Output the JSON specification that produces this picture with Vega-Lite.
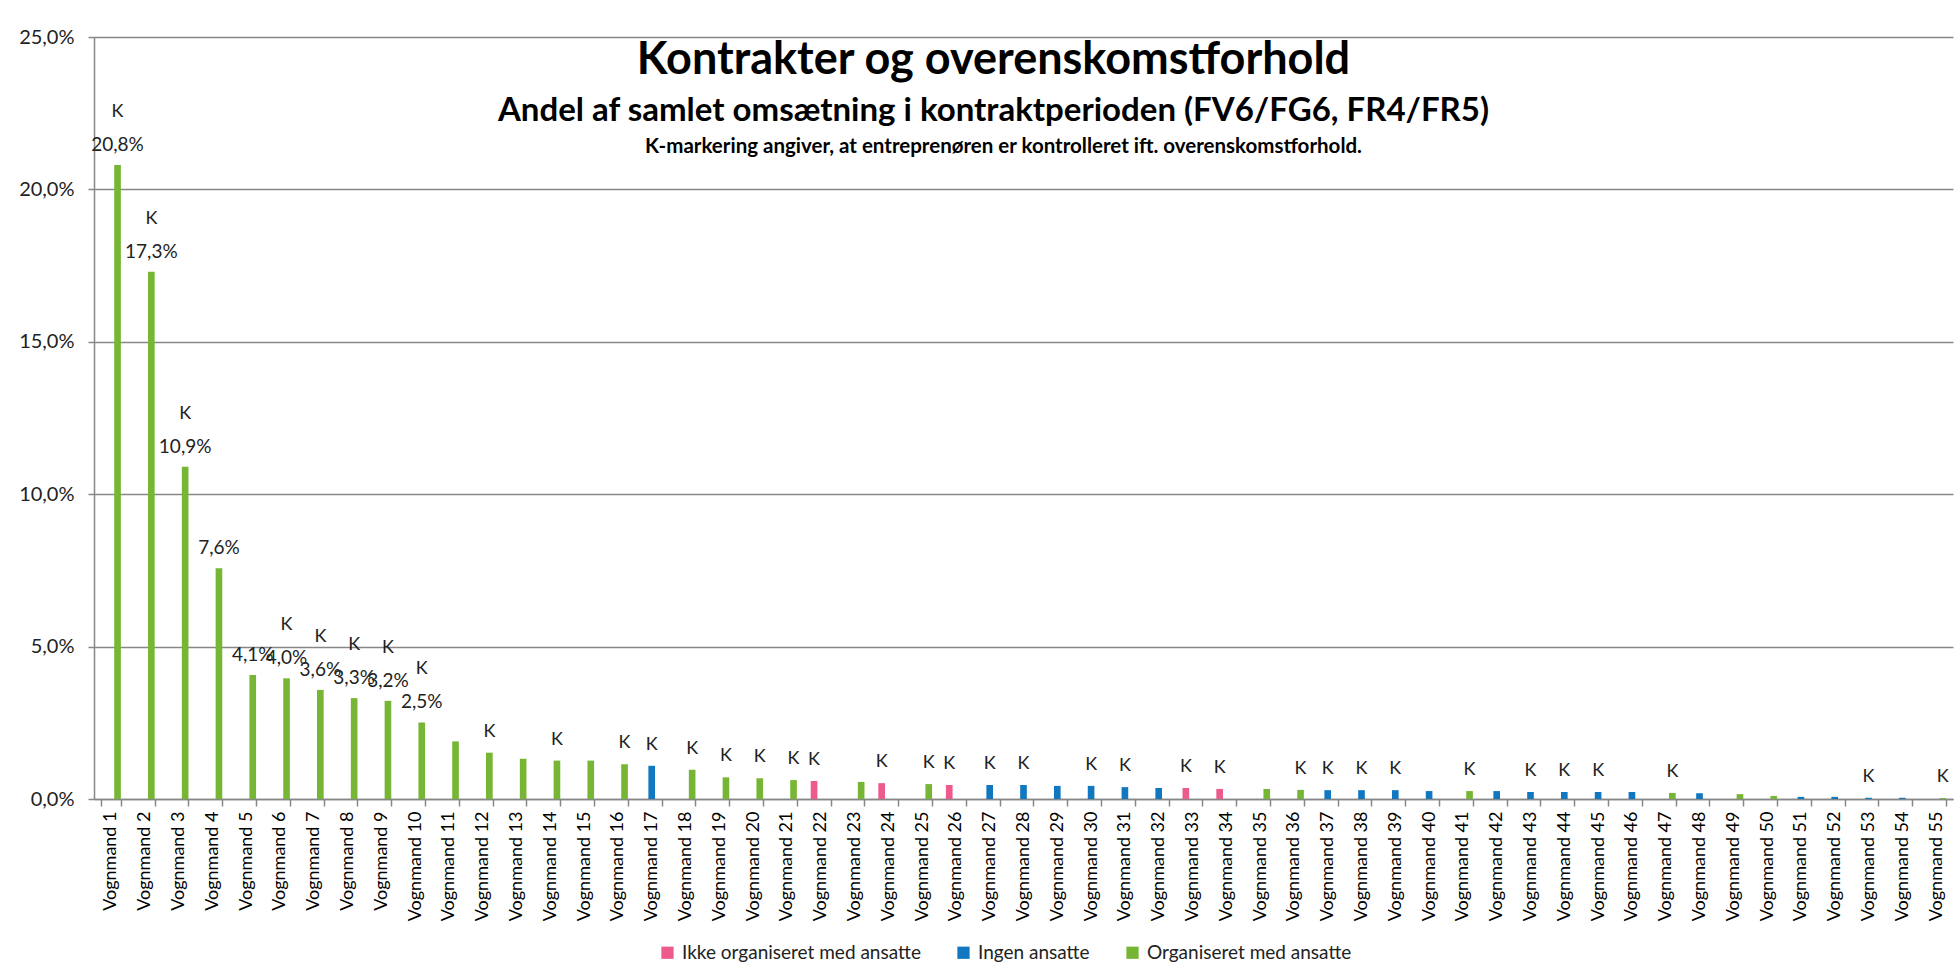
{
  "$schema": "https://vega.github.io/schema/vega-lite/v6.json",
  "autosize": "none",
  "width": 1859,
  "height": 762,
  "padding": {"left": 94, "top": 37, "right": 1, "bottom": 180},
  "background": "white",
  "title": {
    "text": "Kontrakter og overenskomstforhold",
    "subtitle": "Andel af samlet omsætning i kontraktperioden (FV6/FG6, FR4/FR5)",
    "anchor": "middle",
    "offset": -101,
    "dx": -30,
    "font": "Lato",
    "fontSize": 45,
    "fontWeight": "bold",
    "color": "black",
    "subtitleFont": "Lato",
    "subtitleFontSize": 33,
    "subtitleFontWeight": "bold",
    "subtitleColor": "black",
    "subtitlePadding": 12
  },
  "config": {
    "font": "Lato",
    "view": {"stroke": null},
    "locale": {"number": {"decimal": ",", "thousands": ".", "grouping": [3], "currency": ["", " kr"]}}
  },
  "layer": [
    {
      "data": {
        "values": [
          {"v": "Vognmand 1", "type": "Organiseret med ansatte", "share": 0.208, "k": true},
          {"v": "Vognmand 2", "type": "Organiseret med ansatte", "share": 0.173, "k": true},
          {"v": "Vognmand 3", "type": "Organiseret med ansatte", "share": 0.109, "k": true},
          {"v": "Vognmand 4", "type": "Organiseret med ansatte", "share": 0.0757, "k": false},
          {"v": "Vognmand 5", "type": "Organiseret med ansatte", "share": 0.0407, "k": false},
          {"v": "Vognmand 6", "type": "Organiseret med ansatte", "share": 0.0396, "k": true},
          {"v": "Vognmand 7", "type": "Organiseret med ansatte", "share": 0.0358, "k": true},
          {"v": "Vognmand 8", "type": "Organiseret med ansatte", "share": 0.0331, "k": true},
          {"v": "Vognmand 9", "type": "Organiseret med ansatte", "share": 0.0322, "k": true},
          {"v": "Vognmand 10", "type": "Organiseret med ansatte", "share": 0.0251, "k": true},
          {"v": "Vognmand 11", "type": "Organiseret med ansatte", "share": 0.0189, "k": false},
          {"v": "Vognmand 12", "type": "Organiseret med ansatte", "share": 0.0152, "k": true},
          {"v": "Vognmand 13", "type": "Organiseret med ansatte", "share": 0.0132, "k": false},
          {"v": "Vognmand 14", "type": "Organiseret med ansatte", "share": 0.0126, "k": true},
          {"v": "Vognmand 15", "type": "Organiseret med ansatte", "share": 0.0126, "k": false},
          {"v": "Vognmand 16", "type": "Organiseret med ansatte", "share": 0.0114, "k": true},
          {"v": "Vognmand 17", "type": "Ingen ansatte", "share": 0.0109, "k": true},
          {"v": "Vognmand 18", "type": "Organiseret med ansatte", "share": 0.0096, "k": true},
          {"v": "Vognmand 19", "type": "Organiseret med ansatte", "share": 0.0071, "k": true},
          {"v": "Vognmand 20", "type": "Organiseret med ansatte", "share": 0.0068, "k": true},
          {"v": "Vognmand 21", "type": "Organiseret med ansatte", "share": 0.0062, "k": true},
          {"v": "Vognmand 22", "type": "Ikke organiseret med ansatte", "share": 0.0059, "k": true},
          {"v": "Vognmand 23", "type": "Organiseret med ansatte", "share": 0.0056, "k": false},
          {"v": "Vognmand 24", "type": "Ikke organiseret med ansatte", "share": 0.0052, "k": true},
          {"v": "Vognmand 25", "type": "Organiseret med ansatte", "share": 0.0049, "k": true},
          {"v": "Vognmand 26", "type": "Ikke organiseret med ansatte", "share": 0.0046, "k": true},
          {"v": "Vognmand 27", "type": "Ingen ansatte", "share": 0.0046, "k": true},
          {"v": "Vognmand 28", "type": "Ingen ansatte", "share": 0.0046, "k": true},
          {"v": "Vognmand 29", "type": "Ingen ansatte", "share": 0.0043, "k": false},
          {"v": "Vognmand 30", "type": "Ingen ansatte", "share": 0.0043, "k": true},
          {"v": "Vognmand 31", "type": "Ingen ansatte", "share": 0.0039, "k": true},
          {"v": "Vognmand 32", "type": "Ingen ansatte", "share": 0.0036, "k": false},
          {"v": "Vognmand 33", "type": "Ikke organiseret med ansatte", "share": 0.0036, "k": true},
          {"v": "Vognmand 34", "type": "Ikke organiseret med ansatte", "share": 0.0033, "k": true},
          {"v": "Vognmand 35", "type": "Organiseret med ansatte", "share": 0.0033, "k": false},
          {"v": "Vognmand 36", "type": "Organiseret med ansatte", "share": 0.003, "k": true},
          {"v": "Vognmand 37", "type": "Ingen ansatte", "share": 0.0029, "k": true},
          {"v": "Vognmand 38", "type": "Ingen ansatte", "share": 0.0029, "k": true},
          {"v": "Vognmand 39", "type": "Ingen ansatte", "share": 0.0029, "k": true},
          {"v": "Vognmand 40", "type": "Ingen ansatte", "share": 0.0026, "k": false},
          {"v": "Vognmand 41", "type": "Organiseret med ansatte", "share": 0.0026, "k": true},
          {"v": "Vognmand 42", "type": "Ingen ansatte", "share": 0.0026, "k": false},
          {"v": "Vognmand 43", "type": "Ingen ansatte", "share": 0.0023, "k": true},
          {"v": "Vognmand 44", "type": "Ingen ansatte", "share": 0.0023, "k": true},
          {"v": "Vognmand 45", "type": "Ingen ansatte", "share": 0.0023, "k": true},
          {"v": "Vognmand 46", "type": "Ingen ansatte", "share": 0.0023, "k": false},
          {"v": "Vognmand 47", "type": "Organiseret med ansatte", "share": 0.002, "k": true},
          {"v": "Vognmand 48", "type": "Ingen ansatte", "share": 0.0019, "k": false},
          {"v": "Vognmand 49", "type": "Organiseret med ansatte", "share": 0.0016, "k": false},
          {"v": "Vognmand 50", "type": "Organiseret med ansatte", "share": 0.001, "k": false},
          {"v": "Vognmand 51", "type": "Ingen ansatte", "share": 0.0007, "k": false},
          {"v": "Vognmand 52", "type": "Ingen ansatte", "share": 0.0007, "k": false},
          {"v": "Vognmand 53", "type": "Ingen ansatte", "share": 0.0004, "k": true},
          {"v": "Vognmand 54", "type": "Ingen ansatte", "share": 0.0004, "k": false},
          {"v": "Vognmand 55", "type": "Organiseret med ansatte", "share": 0.0003, "k": true}
        ]
      },
      "encoding": {
        "x": {
          "field": "v", "type": "nominal", "sort": null,
          "scale": {"paddingInner": 0.41, "paddingOuter": 0.205},
          "axis": {
            "title": null, "labelAngle": -90, "labelFontSize": 18, "labelColor": "black",
            "labelPadding": 5, "tickBand": "extent", "tickSize": 7, "tickColor": "#878787",
            "tickWidth": 1.5, "domainColor": "#878787", "domainWidth": 1.5, "grid": false
          }
        },
        "xOffset": {
          "field": "type", "type": "nominal",
          "scale": {"domain": ["Ikke organiseret med ansatte", "Ingen ansatte", "Organiseret med ansatte"], "paddingInner": 0, "paddingOuter": 0}
        },
        "y": {
          "field": "share", "type": "quantitative",
          "scale": {"domain": [0, 0.25], "nice": false},
          "axis": {
            "title": null, "format": ".1%", "values": [0, 0.05, 0.1, 0.15, 0.2, 0.25],
            "labelFontSize": 20, "labelColor": "#222222", "labelPadding": 14,
            "tickSize": 6, "tickColor": "#878787", "tickWidth": 1.5,
            "domainColor": "#878787", "domainWidth": 1.5,
            "grid": true, "gridColor": "#878787", "gridWidth": 1.5
          }
        }
      },
      "layer": [
        {
          "mark": {"type": "bar"},
          "encoding": {
            "color": {
              "field": "type", "type": "nominal",
              "scale": {"domain": ["Ikke organiseret med ansatte", "Ingen ansatte", "Organiseret med ansatte"], "range": ["#EC5A8E", "#1177C0", "#77B634"]},
              "legend": {
                "title": null, "orient": "none", "direction": "horizontal",
                "legendX": 564, "legendY": 906,
                "symbolType": "square", "symbolSize": 150, "symbolStrokeWidth": 0,
                "labelFontSize": 19, "labelColor": "#222222", "labelOffset": 5, "labelLimit": 0,
                "columnPadding": 33
              }
            }
          }
        },
        {
          "transform": [{"filter": "datum.share >= 0.024"}],
          "mark": {"type": "text", "fontSize": 19, "color": "#222222", "baseline": "middle", "dy": -20},
          "encoding": {"text": {"field": "share", "type": "quantitative", "format": ".1%"}}
        },
        {
          "transform": [{"filter": "datum.k && datum.share >= 0.024"}],
          "mark": {"type": "text", "fontSize": 18, "color": "#222222", "baseline": "middle", "dy": -53},
          "encoding": {"text": {"value": "K"}}
        },
        {
          "transform": [{"filter": "datum.k && datum.share < 0.024"}],
          "mark": {"type": "text", "fontSize": 18, "color": "#222222", "baseline": "middle", "dy": -21},
          "encoding": {"text": {"value": "K"}}
        }
      ]
    },
    {
      "data": {"values": [{"note": "K-markering angiver, at entreprenøren er kontrolleret ift. overenskomstforhold."}]},
      "mark": {"type": "text", "fontSize": 20.5, "fontWeight": "bold", "color": "black", "baseline": "alphabetic", "align": "center", "dx": -20},
      "encoding": {
        "x": {"datum": "Vognmand 28"},
        "y": {"datum": 0.212},
        "text": {"field": "note", "type": "nominal"}
      }
    }
  ]
}
